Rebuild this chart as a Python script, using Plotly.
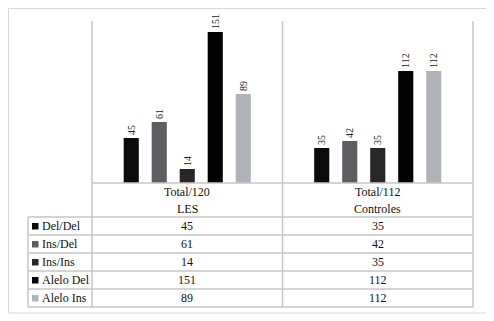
import plotly.graph_objects as go

# ---- data ----
categories = ["Total/120<br>LES", "Total/112<br>Controles"]
series_names = ["Del/Del", "Ins/Del", "Ins/Ins", "Alelo Del", "Alelo Ins"]
del_del = [45, 35]
ins_del = [61, 42]
ins_ins = [14, 35]
alelo_del = [151, 112]
alelo_ins = [89, 112]
series_values = [del_del, ins_del, ins_ins, alelo_del, alelo_ins]
colors = ["#0b0b0b", "#5e5e62", "#272727", "#020202", "#b0b3b8"]

OFF = 8  # page body margin
W, H = 494 - OFF, 321 - OFF
# plot area in reference (window) pixels
L, R, T, B = 92, 473, 23, 183
FONT = "Liberation Serif, Times New Roman, serif"
GRID = "#c6c6ca"


def px(x):
    return (x - L) / (R - L)


def py(y):
    return (B - y) / (B - T)


fig = go.Figure()
for name, vals, col in zip(series_names, series_values, colors):
    fig.add_trace(go.Bar(
        name=name, x=categories, y=vals,
        marker=dict(color=col, line=dict(width=0)),
        text=vals, textposition="outside", textangle=-90,
        textfont=dict(family=FONT, size=10, color="#222"),
        constraintext="none", cliponaxis=False,
    ))

shapes = []
# outer border (clamped to the figure's visible area)
shapes.append(dict(type="rect", xref="paper", yref="paper",
                   x0=px(OFF + 0.5), x1=px(488), y0=py(313), y1=py(OFF + 0.5),
                   line=dict(color="#d8d8d8", width=1)))
# vertical lines (axis, divider, right)
for x in [L, (L + R) / 2, R]:
    shapes.append(dict(type="line", xref="paper", yref="paper",
                       x0=px(x), x1=px(x), y0=py(21), y1=py(307),
                       line=dict(color=GRID, width=1.5)))
# baseline
shapes.append(dict(type="line", xref="paper", yref="paper",
                   x0=px(L), x1=px(R), y0=py(B), y1=py(B),
                   line=dict(color=GRID, width=1.5)))
# table rows
row_top = 217
row_h = 18
for i in range(len(series_names) + 1):
    y = row_top + i * row_h
    shapes.append(dict(type="line", xref="paper", yref="paper",
                       x0=px(28), x1=px(R), y0=py(y), y1=py(y),
                       line=dict(color=GRID, width=1.5)))
shapes.append(dict(type="line", xref="paper", yref="paper",
                   x0=px(28), x1=px(28), y0=py(row_top),
                   y1=py(row_top + row_h * len(series_names)),
                   line=dict(color=GRID, width=1.5)))

annotations = []
col_centers = [(L + (L + R) / 2) / 2, ((L + R) / 2 + R) / 2]
# header (two lines per category)
for c, cat in zip(col_centers, categories):
    for line_txt, yy in zip(cat.split("<br>"), [192, 209]):
        annotations.append(dict(xref="paper", yref="paper", x=px(c), y=py(yy),
                                text=line_txt, showarrow=False,
                                font=dict(family=FONT, size=12, color="#111"),
                                xanchor="center", yanchor="middle"))
# rows
for i, (name, vals, col) in enumerate(zip(series_names, series_values, colors)):
    yc = row_top + i * row_h + row_h / 2
    shapes.append(dict(type="rect", xref="paper", yref="paper",
                       x0=px(32), x1=px(38.5), y0=py(yc + 3.5), y1=py(yc - 3),
                       fillcolor=col, line=dict(width=0)))
    annotations.append(dict(xref="paper", yref="paper", x=px(40), y=py(yc),
                            text=name, showarrow=False,
                            font=dict(family=FONT, size=12, color="#111"),
                            xanchor="left", yanchor="middle"))
    for c, v in zip(col_centers, vals):
        annotations.append(dict(xref="paper", yref="paper", x=px(c), y=py(yc),
                                text=str(v), showarrow=False,
                                font=dict(family=FONT, size=12, color="#111"),
                                xanchor="center", yanchor="middle"))

fig.update_layout(
    width=W, height=H,
    margin=dict(l=L - OFF, r=W + OFF - R, t=T - OFF, b=H + OFF - B, pad=0),
    paper_bgcolor="white", plot_bgcolor="white",
    barmode="group", bargap=0.265, bargroupgap=0.46,
    showlegend=False,
    xaxis=dict(showticklabels=False, showgrid=False, zeroline=False,
               showline=False, ticks=""),
    yaxis=dict(range=[0, 160], visible=False),
    shapes=shapes, annotations=annotations,
    font=dict(family=FONT),
)

fig.write_html("out.html")
